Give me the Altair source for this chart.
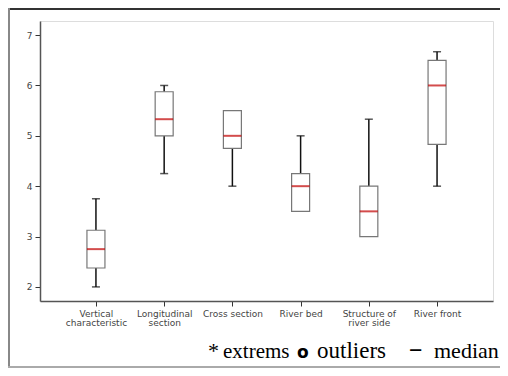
import altair as alt
import pandas as pd

categories = ["Vertical\ncharacteristic", "Longitudinal\nsection", "Cross section",
              "River bed", "Structure of\nriver side", "River front"]
whisker_low = [2.0, 4.25, 4.0, 3.5, 3.0, 4.0]
q1 = [2.375, 5.0, 4.75, 3.5, 3.0, 4.83]
median = [2.75, 5.33, 5.0, 4.0, 3.5, 6.0]
q3 = [3.125, 5.875, 5.5, 4.25, 4.0, 6.5]
whisker_high = [3.75, 6.0, 5.5, 5.0, 5.33, 6.67]
y_ticks = [2, 3, 4, 5, 6, 7]

df = pd.DataFrame({"cat": categories, "wlo": whisker_low, "q1": q1,
                   "med": median, "q3": q3, "whi": whisker_high})

W, H = 453, 280
x = alt.X("cat:N", sort=categories,
          scale=alt.Scale(type="point", padding=0.82),
          axis=alt.Axis(title=None, labelAngle=0, labelExpr="split(datum.label, '\\n')",
                        labelFont="DejaVu Sans", labelFontSize=9, labelColor="#444",
                        labelLineHeight=9, labelPadding=3, tickSize=5, tickColor="#333",
                        domainColor="#555", domainWidth=1.5, grid=False))
yscale = alt.Scale(domain=[1.72, 7.28], nice=False, zero=False)
yaxis = alt.Axis(title=None, values=y_ticks, grid=False, labelFont="DejaVu Sans",
                 labelFontSize=9, labelColor="#444", tickSize=5, tickColor="#333",
                 domainColor="#555", domainWidth=1.5, labelPadding=3)

base = alt.Chart(df)

upper = base.mark_rule(color="#111", strokeWidth=1.5).encode(
    x=x, y=alt.Y("q3:Q", scale=yscale, axis=yaxis), y2="whi:Q")
lower = base.mark_rule(color="#111", strokeWidth=1.5).encode(
    x=x, y=alt.Y("wlo:Q", scale=yscale), y2="q1:Q")
cap_hi = base.transform_filter("datum.whi > datum.q3").mark_tick(
    color="#111", size=8, thickness=1.5, orient="horizontal").encode(
    x=x, y=alt.Y("whi:Q", scale=yscale))
cap_lo = base.transform_filter("datum.wlo < datum.q1").mark_tick(
    color="#111", size=8, thickness=1.5, orient="horizontal").encode(
    x=x, y=alt.Y("wlo:Q", scale=yscale))
box = base.mark_bar(size=18, fill="white", stroke="#777", strokeWidth=1.2).encode(
    x=x, y=alt.Y("q1:Q", scale=yscale), y2="q3:Q")
med = base.mark_tick(color="#c00000", size=18, thickness=2, orient="horizontal").encode(
    x=x, y=alt.Y("med:Q", scale=yscale))

one = pd.DataFrame({"k": [0]})
frame_top = alt.Chart(one).mark_rule(color="#333", strokeWidth=2).encode(
    x=alt.value(-32), x2=alt.value(460), y=alt.value(-12))
frame_left = alt.Chart(one).mark_rule(color="#888", strokeWidth=2).encode(
    x=alt.value(-31), y=alt.value(-13), y2=alt.value(346))
frame_bottom = alt.Chart(one).mark_rule(color="#aaa", strokeWidth=2).encode(
    x=alt.value(-32), x2=alt.value(460), y=alt.value(346))

serif = "Liberation Serif, Times New Roman, serif"
legend_parts = [
    ("*", 168, serif, "normal", 22),
    ("extrems", 183, serif, "normal", 21),
    ("o", 257, "DejaVu Sans", "bold", 17),
    ("outliers", 277, serif, "normal", 23),
    ("\u2212", 369, serif, "bold", 24),
    ("median", 394, serif, "normal", 22),
]
legend_layers = []
for txt, px, font, weight, fs in legend_parts:
    legend_layers.append(
        alt.Chart(one).mark_text(text=txt, font=font, fontSize=fs,
                                 fontWeight=weight, align="left", baseline="alphabetic",
                                 color="#000").encode(
            x=alt.value(px), y=alt.value(337)))

chart = alt.layer(frame_top, frame_left, frame_bottom, lower, upper, cap_lo, cap_hi,
                  box, med, *legend_layers).properties(
    width=W, height=H,
    padding={"left": 32, "top": 13, "right": 7, "bottom": 67},
    autosize=alt.AutoSizeParams(type="none"),
).configure_view(stroke="#999", strokeWidth=1).configure(background="white")

chart.save("out.html", embed_options={"renderer": "svg", "actions": False})
